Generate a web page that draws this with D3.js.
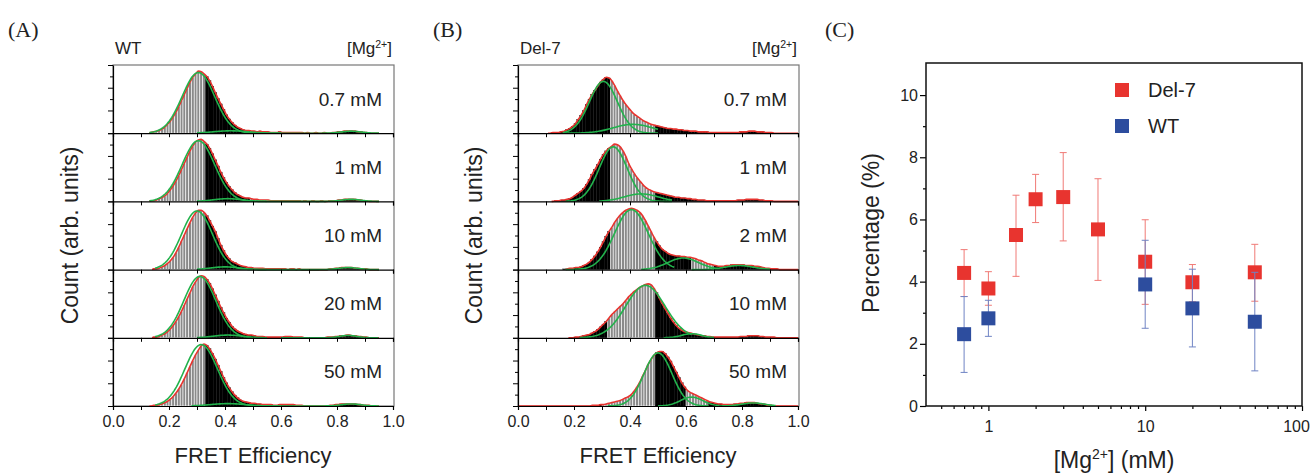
<!DOCTYPE html>
<html>
<head>
<meta charset="utf-8">
<script src="https://cdn.jsdelivr.net/npm/d3@7"></script>
<style>
  body { margin: 0; background: #fff; }
  text { font-family: "Liberation Sans", Arial, sans-serif; fill: #222; }
  .plabel { font-family: "Liberation Serif", "Times New Roman", serif; }
</style>
</head>
<body>
<script>
// ---------- data: FRET histograms (bin width 0.01, heights in % of panel) ----------
var binWidth = 0.01;
var wtStart = 0.13, delStart = 0.10;

var wtLabels = ["0.7 mM", "1 mM", "10 mM", "20 mM", "50 mM"];
var delLabels = ["0.7 mM", "1 mM", "2 mM", "10 mM", "50 mM"];

var wt07 = [1,2,3,4,6,9,13,18,24,31, 39,48,57,66,75,82,87,91,90,87, 83,77,69,60,51,43,35,27,21,16,
            12,9,7,5,4,4,3,3,2,3, 2,2,2,1,1,1,2,1,1,1, 1,1,1,1,1,0,1,0,0,1, 0,0,1,0,0,1,1,2,2,3, 3,3,3,3,2,2,1,1,0,0];
var wt1  = [1,1,2,4,6,8,12,17,23,30, 38,47,56,65,74,81,87,90,91,88, 84,78,70,61,52,43,35,28,22,17,
            13,10,8,6,5,5,4,3,3,2, 2,2,2,1,1,1,1,1,1,1, 1,1,1,1,0,1,0,0,1,0, 0,1,0,0,1,1,1,2,2,3, 3,3,3,3,2,2,1,1,0,0];
var wt10 = [0,1,1,2,4,6,9,13,18,25, 33,42,51,60,69,77,83,87,87,84, 79,72,64,56,46,36,28,21,16,12,
            10,8,6,5,4,3,3,2,2,2, 2,1,1,1,1,1,1,1,1,0, 1,1,0,1,0,0,0,0,0,0, 0,0,0,0,1,1,2,2,3,3, 3,3,3,2,2,1,1,1,0,0];
var wt20 = [0,1,1,2,4,6,9,13,18,24, 31,39,48,57,66,75,82,88,91,90, 86,80,72,63,54,45,37,29,23,17,
            13,10,8,6,5,4,4,3,2,2, 2,1,1,1,1,1,1,1,2,2, 2,1,1,1,1,0,0,0,0,0, 0,0,0,1,1,1,2,2,3,3, 4,4,3,3,2,2,1,1,0,0];
var wt50 = [0,1,1,2,3,5,7,10,14,19, 25,32,40,49,58,67,75,82,88,91, 89,84,77,69,60,51,42,34,27,21,
            16,12,9,7,6,5,4,4,3,3, 2,2,2,2,1,1,2,2,2,2, 2,2,1,1,1,0,0,0,0,0, 0,0,0,0,1,1,2,2,3,3, 3,3,3,3,2,2,1,1,1,0];

var del07 = [0,0,1,1,1,2,3,5,7,10, 14,20,26,33,42,50,57,63,69,75, 79,82,81,77,70,62,55,48,42,37,
             32,28,25,22,19,17,15,13,12,11, 10,9,8,7,7,6,6,5,5,4, 4,3,3,3,2,2,2,2,1,1,
             1,1,1,1,1,1,1,1,1,2, 2,2,3,3,3,2,2,2,1,1, 1,0];
var del1  = [0,0,0,1,1,2,2,3,4,6, 9,12,15,19,25,32,40,47,54,62, 69,74,78,81,84,83,80,74,66,56,
             48,41,35,30,25,21,18,16,14,13, 12,11,10,9,8,7,6,6,5,5, 4,4,3,3,2,2,2,1,1,1,
             1,1,1,1,1,1,1,1,2,2, 2,3,3,3,3,3,2,2,1,1, 1,0];
var del2  = [0,0,0,0,0,0,1,1,2,2, 3,3,4,6,8,11,15,20,26,33, 41,49,56,62,69,75,80,84,87,89,
             90,89,87,84,79,72,64,56,48,41, 35,30,27,24,22,21,20,20,19,19, 18,18,17,16,14,13,11,9,8,7,
             6,5,5,5,6,6,7,7,7,7, 7,6,6,6,5,5,4,3,2,2, 1,1,1,0];
var del10 = [0,0,0,0,0,0,0,0,0,0, 1,1,2,3,4,5,7,9,12,16, 20,24,29,34,38,42,46,50,55,60,
             64,68,71,74,76,78,79,78,73,66, 58,50,43,36,29,23,18,14,11,9, 8,7,6,5,4,3,3,2,2,1,
             1,1,1,1,1,1,1,1,1,2, 2,2,3,3,3,3,2,2,1,1, 1,1,0];
var del50 = [0,0,0,0,0,0,0,0,0,0, 0,0,0,0,0,0,1,1,1,2, 2,3,4,5,6,7,8,10,12,14,
             17,22,28,35,44,52,61,68,74,78, 80,80,77,72,66,58,50,42,34,28, 23,20,18,16,14,12,10,8,6,5,
             4,3,3,2,2,2,2,3,3,4, 4,5,5,5,5,4,3,3,2,1, 1,0];

// Gaussian fit components: [centre, amplitude, sigma, drawn from, drawn to]
var wtFits = [
  [[0.305, 89, 0.058, 0.13, 0.55], [0.42, 3.5, 0.06, 0.30, 0.60], [0.85, 3, 0.035, 0.55, 0.95]],
  [[0.305, 89, 0.058, 0.13, 0.55], [0.41, 4, 0.05, 0.30, 0.55], [0.85, 3, 0.035, 0.55, 0.95]],
  [[0.300, 86, 0.055, 0.15, 0.55], [0.40, 4, 0.05, 0.30, 0.55], [0.84, 3, 0.035, 0.55, 0.95]],
  [[0.310, 90, 0.057, 0.15, 0.55], [0.41, 4, 0.05, 0.30, 0.55], [0.84, 3.5, 0.03, 0.60, 0.95]],
  [[0.315, 90, 0.058, 0.15, 0.55], [0.41, 3.5, 0.06, 0.28, 0.60], [0.85, 3, 0.035, 0.55, 0.95]]
];
var delFits = [
  [[0.305, 76, 0.05, 0.16, 0.50], [0.41, 13, 0.07, 0.16, 0.50]],
  [[0.340, 80, 0.05, 0.17, 0.55], [0.44, 11, 0.06, 0.29, 0.55]],
  [[0.405, 88, 0.06, 0.17, 0.56], [0.59, 17, 0.055, 0.44, 0.72], [0.79, 6, 0.05, 0.62, 0.90]],
  [[0.455, 77, 0.07, 0.22, 0.62], [0.62, 6, 0.035, 0.52, 0.70]],
  [[0.500, 78, 0.05, 0.32, 0.68], [0.62, 13, 0.04, 0.50, 0.72], [0.84, 4.5, 0.04, 0.72, 0.92]]
];
// FRET ranges drawn with striped bars, and the span of the total-fit line
var wtStripes = [[[0.12, 0.33], [0.49, 0.56]], [[0.12, 0.33], [0.49, 0.56]], [[0.12, 0.33]], [[0.12, 0.33]], [[0.12, 0.33]]];
var delStripes = [[[0.33, 0.49]], [[0.33, 0.49]], [[0.33, 0.49], [0.62, 0.70]], [[0.32, 0.49]], [[0.30, 0.49], [0.60, 0.68]]];
var wtRed = [[0.13, 0.95], [0.13, 0.95], [0.14, 0.95], [0.14, 0.95], [0.13, 0.95]];
var delRed = [[0.107, 1.0], [0.12, 1.0], [0.17, 1.0], [0.18, 1.0], [0.0, 1.0]];

// ---------- data: panel C ----------
var del7Mg  = [0.7, 1, 1.5, 2, 3, 5, 10, 20, 50];
var del7Pct = [4.28, 3.78, 5.50, 6.65, 6.72, 5.68, 4.64, 3.98, 4.30];
var del7Lo  = [3.52, 3.24, 4.17, 5.90, 5.31, 4.04, 3.27, 3.35, 3.37];
var del7Hi  = [5.03, 4.32, 6.78, 7.45, 8.15, 7.31, 5.99, 4.55, 5.20];
var wtMg  = [0.7, 1, 10, 20, 50];
var wtPct = [2.31, 2.82, 3.91, 3.14, 2.71];
var wtLo  = [1.08, 2.24, 2.50, 1.90, 1.13];
var wtHi  = [3.52, 3.40, 5.33, 4.40, 4.30];

var W = 1310, H = 475;
var svg = d3.select("body").append("svg").attr("width", W).attr("height", H);

var RED = "#e8342f", GREEN = "#22b24c", BLUE = "#2d4d9e";

function addMg(sel, x, y, size) {
  var t = sel.append("text").attr("x", x).attr("y", y).attr("text-anchor", "end")
    .style("font-size", size + "px");
  t.append("tspan").text("[Mg");
  t.append("tspan").attr("dy", -size * 0.38).style("font-size", (size * 0.62) + "px").text("2+");
  t.append("tspan").attr("dy", size * 0.38).text("]");
  return t;
}

function histPanel(o) {
  var x = d3.scaleLinear().domain([0, 1]).range([o.left, o.right]);
  var n = o.series.length;
  var h = (o.bottom - o.top) / n;
  var bw = x(binWidth) - x(0);

  svg.append("rect").attr("x", o.left).attr("y", o.top)
    .attr("width", o.right - o.left + 1).attr("height", o.bottom - o.top)
    .attr("fill", "none").attr("stroke", "#777").attr("stroke-width", 1.2);

  o.series.forEach(function(vals, i) {
    var y0 = o.top + h * (i + 1);
    var y = d3.scaleLinear().domain([0, 100]).range([y0, y0 - h]);
    var g = svg.append("g");
    var stripes = o.stripes[i];
    function striped(v) {
      return stripes.some(function(r) { return v >= r[0] - 1e-9 && v < r[1] - 1e-9; });
    }
    var bins = vals.map(function(v, j) { return { x: o.start + j * binWidth, v: v }; })
      .filter(function(d) { return d.v > 0; });

    g.selectAll("rect.bar").data(bins).enter().append("rect")
      .attr("class", "bar")
      .attr("x", function(d) { return x(d.x); })
      .attr("width", bw)
      .attr("y", function(d) { return y(d.v); })
      .attr("height", function(d) { return y0 - y(d.v); })
      .attr("fill", function(d) { return striped(d.x) ? "#8a8a8a" : "#000"; })
      .attr("stroke", function(d) { return striped(d.x) ? "#fff" : "#000"; })
      .attr("stroke-width", function(d) { return striped(d.x) ? 0.6 : 0.3; });

    // total fit line
    var pts = [[o.red[i][0], 0]].concat(vals.map(function(v, j) {
      return [o.start + (j + 0.5) * binWidth, v];
    })).concat([[o.red[i][1], 0]]);
    pts = pts.filter(function(p, k) { return k === 0 || k === pts.length - 1 || (p[0] > o.red[i][0] && p[0] < o.red[i][1]); });
    g.append("path").datum(pts)
      .attr("d", d3.line().x(function(p) { return x(p[0]); }).y(function(p) { return y(p[1]); }).curve(d3.curveMonotoneX))
      .attr("fill", "none").attr("stroke", RED).attr("stroke-width", 1.6);

    // gaussian components
    o.fits[i].forEach(function(c) {
      var gp = d3.range(c[3], c[4] + 1e-9, 0.004).map(function(v) {
        return [v, c[1] * Math.exp(-(v - c[0]) * (v - c[0]) / (2 * c[2] * c[2]))];
      });
      g.append("path").datum(gp)
        .attr("d", d3.line().x(function(p) { return x(p[0]); }).y(function(p) { return y(p[1]); }))
        .attr("fill", "none").attr("stroke", GREEN).attr("stroke-width", 1.6);
    });

    // baseline axis with ticks every 0.1, labels every 0.2
    var ax = d3.axisBottom(x).tickValues(d3.range(0, 1.001, 0.1)).tickSizeOuter(0).tickSize(4).tickPadding(6);
    if (i < n - 1) ax.tickFormat("");
    else ax.tickFormat(function(d, k) { return k % 2 === 0 ? d3.format(".1f")(d) : ""; });
    var axg = g.append("g").attr("transform", "translate(0," + y0 + ")").call(ax);
    axg.select(".domain").attr("stroke", "#000").attr("stroke-width", 1.2);
    axg.selectAll(".tick line").attr("stroke", "#000");
    axg.selectAll("text").style("font-size", "16px").attr("fill", "#222");

    var ay = d3.axisLeft(y).tickValues(d3.range(0, 100.01, 100 / 6)).tickFormat("").tickSizeOuter(0);
    var ayg = g.append("g").attr("transform", "translate(" + o.left + ",0)").call(ay);
    ayg.select(".domain").attr("stroke", "#000").attr("stroke-width", 1.2);
    ayg.selectAll(".tick line").attr("stroke", "#000")
      .attr("x2", function(d, k) { return k % 2 === 0 ? -5 : -3; });

    svg.append("text").attr("x", o.right - 11).attr("y", y0 - h + 40.5)
      .attr("text-anchor", "end").style("font-size", "19px").text(o.labels[i]);
  });

  svg.append("text").attr("x", o.left + 2).attr("y", o.top - 11).style("font-size", "17px").text(o.title);
  addMg(svg, o.right - 1, o.top - 11, 17);

  svg.append("text").attr("x", (o.left + o.right) / 2).attr("y", 463)
    .attr("text-anchor", "middle").style("font-size", "22px").text("FRET Efficiency");
  svg.append("text").attr("transform", "translate(" + o.ylabX + "," + ((o.top + o.bottom) / 2) + ") rotate(-90)")
    .attr("text-anchor", "middle").style("font-size", "23px").text("Count (arb. units)");
}

histPanel({ left: 113, right: 393, top: 65, bottom: 406, start: wtStart,
  series: [wt07, wt1, wt10, wt20, wt50], fits: wtFits, stripes: wtStripes, red: wtRed,
  labels: wtLabels, title: "WT", ylabX: 78 });
histPanel({ left: 518, right: 798, top: 65, bottom: 406, start: delStart,
  series: [del07, del1, del2, del10, del50], fits: delFits, stripes: delStripes, red: delRed,
  labels: delLabels, title: "Del-7", ylabX: 482 });

// ---------- panel C ----------
var cx = d3.scaleLog().domain([0.4, 100]).range([926, 1302]);
var cy = d3.scaleLinear().domain([0, 11]).range([406, 64]);

var minorX = [0.5, 0.6, 0.7, 0.8, 0.9, 2, 3, 4, 5, 6, 7, 8, 9, 20, 30, 40, 50, 60, 70, 80, 90];
var gx2 = svg.append("g").attr("transform", "translate(0,406)")
  .call(d3.axisBottom(cx).tickValues(minorX).tickFormat("").tickSize(3).tickSizeOuter(0));
var gx = svg.append("g").attr("transform", "translate(0,406)")
  .call(d3.axisBottom(cx).tickValues([1, 10, 100]).tickFormat(d3.format("d")).tickSize(5).tickSizeOuter(0).tickPadding(10));
var gy2 = svg.append("g").attr("transform", "translate(926,0)")
  .call(d3.axisLeft(cy).tickValues([1, 3, 5, 7, 9]).tickFormat("").tickSize(3).tickSizeOuter(0));
var gy = svg.append("g").attr("transform", "translate(926,0)")
  .call(d3.axisLeft(cy).tickValues([0, 2, 4, 6, 8, 10]).tickSize(6).tickSizeOuter(0).tickPadding(2));
[gx, gx2, gy, gy2].forEach(function(a) {
  a.selectAll("line").attr("stroke", "#000").attr("stroke-width", 1.2);
  a.select(".domain").attr("stroke", "none");
  a.selectAll("text").style("font-size", "16px").attr("fill", "#222");
});
// keep the last log label inside the picture, as in the original
gx.selectAll(".tick text").filter(function(d) { return d === 100; }).attr("x", -6);

svg.append("rect").attr("x", 926).attr("y", 63).attr("width", 376).attr("height", 343)
  .attr("fill", "none").attr("stroke", "#111").attr("stroke-width", 1.5);

function drawSeries(mg, pct, lo, hi, col, barCol) {
  var g = svg.append("g");
  var idx = d3.range(mg.length);
  g.selectAll("line.eb").data(idx).enter().append("line")
    .attr("x1", function(i) { return cx(mg[i]); }).attr("x2", function(i) { return cx(mg[i]); })
    .attr("y1", function(i) { return cy(lo[i]); }).attr("y2", function(i) { return cy(hi[i]); })
    .attr("stroke", barCol).attr("stroke-width", 1);
  [lo, hi].forEach(function(arr) {
    g.selectAll(null).data(idx).enter().append("line")
      .attr("x1", function(i) { return cx(mg[i]) - 3.5; }).attr("x2", function(i) { return cx(mg[i]) + 3.5; })
      .attr("y1", function(i) { return cy(arr[i]); }).attr("y2", function(i) { return cy(arr[i]); })
      .attr("stroke", barCol).attr("stroke-width", 1);
  });
  g.selectAll("rect").data(idx).enter().append("rect")
    .attr("x", function(i) { return cx(mg[i]) - 7; }).attr("y", function(i) { return cy(pct[i]) - 7; })
    .attr("width", 14).attr("height", 14).attr("fill", col);
}
drawSeries(del7Mg, del7Pct, del7Lo, del7Hi, RED, "#f07a76");
drawSeries(wtMg, wtPct, wtLo, wtHi, BLUE, "#7084c4");

// legend
var legend = [["Del-7", RED], ["WT", BLUE]];
legend.forEach(function(l, i) {
  svg.append("rect").attr("x", 1115).attr("y", 83 + i * 36).attr("width", 14).attr("height", 14).attr("fill", l[1]);
  svg.append("text").attr("x", 1148).attr("y", 97 + i * 36).style("font-size", "20px").text(l[0]);
});

svg.append("text").attr("transform", "translate(879,233) rotate(-90)").attr("text-anchor", "middle")
  .style("font-size", "23px").text("Percentage (%)");
var xl = svg.append("text").attr("x", 1114).attr("y", 468).attr("text-anchor", "middle").style("font-size", "23px");
xl.append("tspan").text("[Mg");
xl.append("tspan").attr("dy", -9).style("font-size", "14px").text("2+");
xl.append("tspan").attr("dy", 9).text("] (mM)");

// panel letters
[["(A)", 8], ["(B)", 433], ["(C)", 825]].forEach(function(p) {
  svg.append("text").attr("class", "plabel").attr("x", p[1]).attr("y", 37)
    .style("font-size", "22px").text(p[0]);
});
</script>
</body>
</html>
